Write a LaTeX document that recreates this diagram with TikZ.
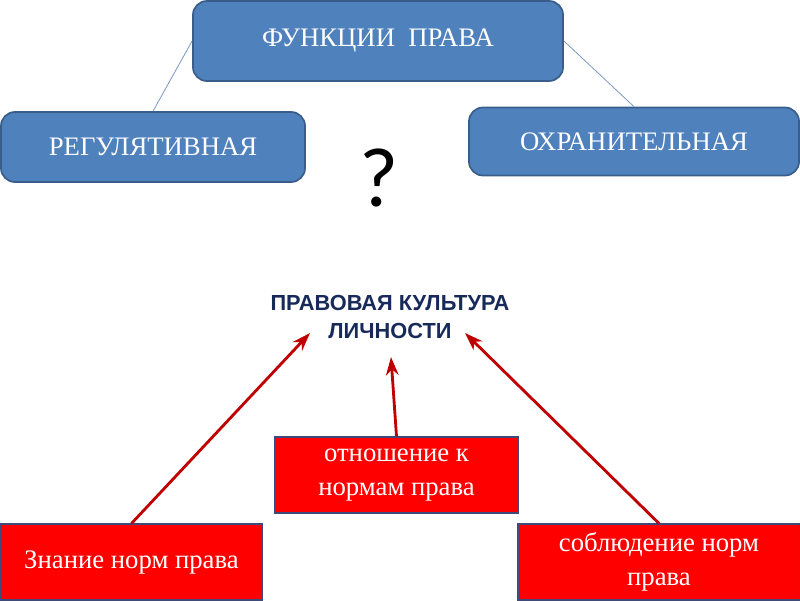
\documentclass[tikz,border=0pt]{standalone}
\usepackage{fontspec}
\setmainfont{Liberation Serif}
\newfontfamily\titlefont{Liberation Sans}
\newfontfamily\qfont{Carlito}
\usetikzlibrary{arrows.meta}

\definecolor{boxblue}{HTML}{4F81BD}
\definecolor{boxblueline}{HTML}{385D8A}
\definecolor{linkblue}{HTML}{7F9CC4}
\definecolor{arrowred}{HTML}{C00000}
\definecolor{redline}{HTML}{404A78}
\definecolor{navy}{HTML}{172A5A}

\begin{document}
\begin{tikzpicture}[x=0.025cm, y=-0.025cm,
	bluebox/.style={draw=boxblueline, line width=1.2pt, fill=boxblue, rounded corners=0.35cm,
		text=white, font=\fontsize{19}{23}\selectfont, align=center},
	redbox/.style={draw=redline, line width=0.8pt, fill=red,
		text=white, font=\fontsize{19}{24}\selectfont, align=center},
	link/.style={draw=linkblue, line width=0.6pt},
	arr/.style={draw=arrowred, line width=2pt, -{Stealth[length=13pt, width=9pt]}}]
	
	\useasboundingbox (0,0) rectangle (800,600);
	
	% Blue boxes
	\node[bluebox, minimum width=9.25cm, minimum height=2cm] (func) at (378,41) {ФУНКЦИИ\ \ ПРАВА};
	\node[bluebox, minimum width=7.6cm, minimum height=1.75cm] (reg) at (153,147) {РЕГУЛЯТИВНАЯ};
	\node[bluebox, minimum width=8.25cm, minimum height=1.7cm] (okh) at (634,141.5) {ОХРАНИТЕЛЬНАЯ};
	
	% Lines
	\draw[link] (func.west) -- (reg.north);
	\draw[link] (func.east) -- (okh.north);
	
	% Question mark
	\node[font=\qfont\fontsize{60}{60}\selectfont] (quest) at (379,178) {?};
	
	% Title
	\node[text=navy, font=\titlefont\bfseries\fontsize{15.5}{20}\selectfont, align=center] (title) at (390,317)
		{ПРАВОВАЯ КУЛЬТУРА\\ЛИЧНОСТИ};
	\coordinate (tl) at (310,333);
	\coordinate (tm) at (391,357);
	\coordinate (tr) at (465,333);
	
	% Red boxes
	\node[redbox, minimum width=6.1cm, minimum height=1.9cm] (attit) at (396.5,475) {отношение к\\нормам права};
	\node[redbox, minimum width=6.55cm, minimum height=1.9cm] (know) at (131.5,562) {Знание норм права};
	\node[redbox, minimum width=7.05cm, minimum height=1.9cm] (obey) at (659,562) {соблюдение норм\\права};
	
	% Arrows
	\draw[arr] (know.north) -- (tl);
	\draw[arr] (attit.north) -- (tm);
	\draw[arr] (obey.north) -- (tr);
	
\end{tikzpicture}
\end{document}
